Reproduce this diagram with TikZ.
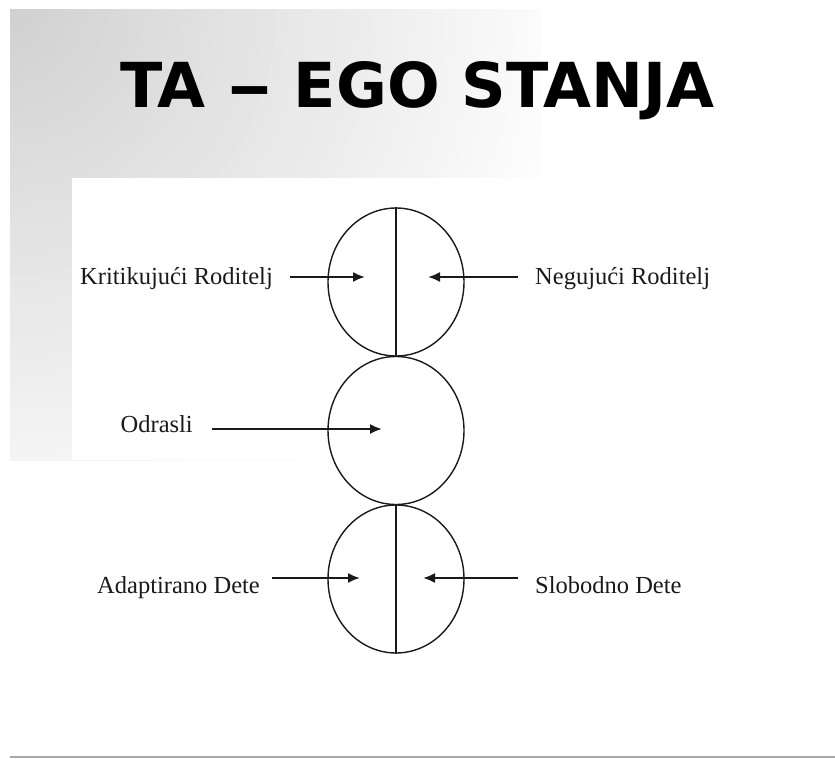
\documentclass[tikz,border=0pt]{standalone}
\usepackage{fontspec}
\setmainfont{Liberation Serif}
\newfontfamily\titlefont{DejaVu Sans}
\usetikzlibrary{shapes.geometric,arrows.meta}
\definecolor{bgdark}{HTML}{D0D0D0}
\definecolor{inkc}{HTML}{1A1A1A}
\definecolor{rulec}{HTML}{A8A8A8}
\begin{document}
\begin{tikzpicture}[x=1pt,y=-1pt,
  egoring/.style={ellipse, draw=inkc, line width=1.4pt, minimum width=136pt, minimum height=148pt, inner sep=0pt},
  lbl/.style={inner sep=0pt, text=inkc, font=\fontsize{24.5}{28}\selectfont},
  arr/.style={draw=inkc, line width=1.9pt, -{Latex[length=12pt,width=10pt]}},
  split/.style={draw=inkc, line width=1.3pt}]
\useasboundingbox (0,0) rectangle (835,759);
\fill[white] (0,0) rectangle (835,759);
% background gradient (stepped radial fade from the top-left corner)
\begin{scope}
  \clip (10,10) rectangle (540,460);
  \fill[white] (10,10) rectangle (540,460);
  \foreach \i in {48,47,...,1} {
    \pgfmathsetmacro\pc{100-2.0833*\i}
    \pgfmathsetmacro\rad{12.0833*\i}
    \fill[bgdark!\pc!white] (10,10) circle (\rad);
  }
\end{scope}
\fill[white] (72,178) rectangle (540,460);
% title
\node[inner sep=0pt, anchor=base, font=\titlefont\bfseries\fontsize{62}{70}\selectfont, text=black] (title) at (417.5,108) {TA \scalebox{1.45}[1]{–} EGO STANJA};
% circles
\node[egoring] (par) at (396,282) {};
\node[egoring] (adu) at (396,430.5) {};
\node[egoring] (chi) at (396,579) {};
\draw[split] (par.north) -- (par.south);
\draw[split] (chi.north) -- (chi.south);
% arrow tips
\coordinate (tkr) at (365,277);
\coordinate (tnr) at (428,277);
\coordinate (tod) at (382,429);
\coordinate (tad) at (360,578);
\coordinate (tsd) at (423,578);
% labels
\node[lbl, anchor=base east] (kr) at (273,285) {Kritikujući Roditelj};
\node[lbl, anchor=base west] (nr) at (535,285) {Negujući Roditelj};
\node[lbl, anchor=base east] (od) at (193,432) {Odrasli};
\node[lbl, anchor=base east] (ad) at (260,593) {Adaptirano Dete};
\node[lbl, anchor=base west] (sd) at (535,593) {Slobodno Dete};
% arrows
\draw[arr, shorten <=17pt] (kr.east |- tkr) -- (tkr);
\draw[arr, shorten <=17pt] (nr.west |- tnr) -- (tnr);
\draw[arr, shorten <=19pt] (od.east |- tod) -- (tod);
\draw[arr, shorten <=12pt] (ad.east |- tad) -- (tad);
\draw[arr, shorten <=17pt] (sd.west |- tsd) -- (tsd);
% bottom rule
\coordinate (rl) at (10,757);
\coordinate (rr) at (835,757);
\draw[rulec, line width=1.5pt] (rl) -- (rr);
\end{tikzpicture}
\end{document}
